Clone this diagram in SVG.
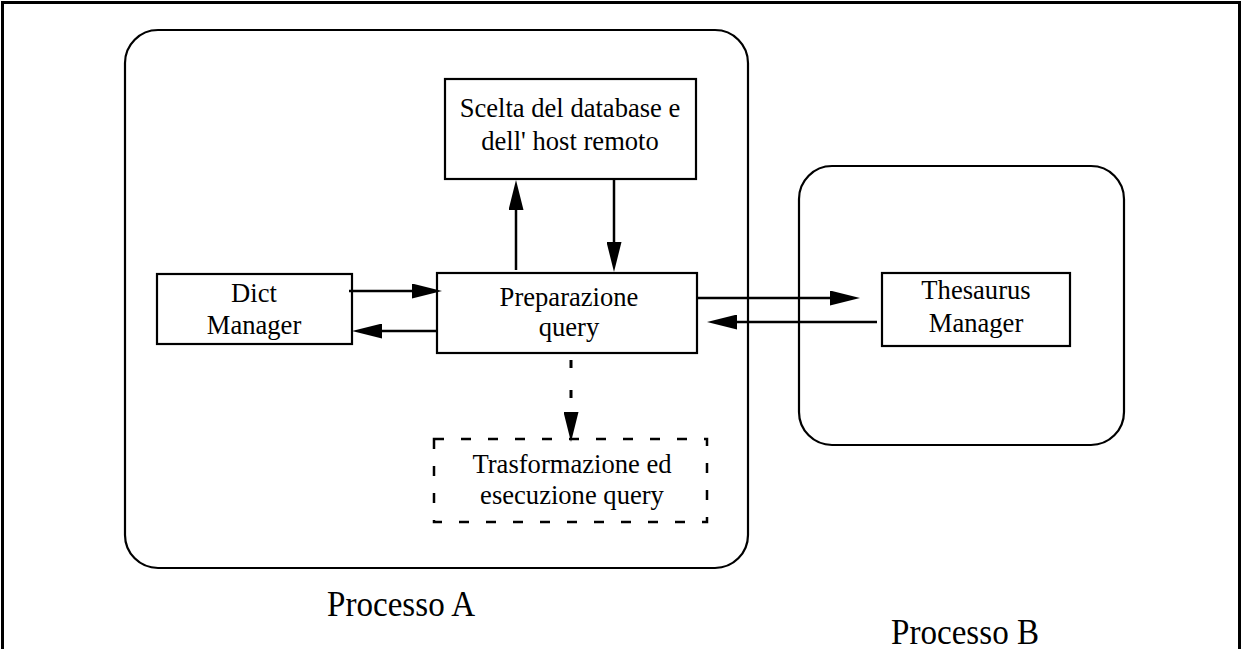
<svg xmlns="http://www.w3.org/2000/svg" width="1242" height="649" viewBox="0 0 1242 649">
<style>
.frame{fill:none;stroke:#000;stroke-width:3}
.proc{fill:none;stroke:#000;stroke-width:2.2}
.box{fill:#fff;stroke:#000;stroke-width:2.2}
.dbox{fill:none;stroke:#000;stroke-width:2.5;stroke-dasharray:10 17}
.lbl{font-family:"Liberation Serif","Times New Roman",serif;font-size:28px;text-anchor:middle;fill:#000}
.big{font-family:"Liberation Serif","Times New Roman",serif;font-size:36px;text-anchor:middle;fill:#000}
.conn{fill:none;stroke:#000;stroke-width:2.5;marker-end:url(#ah)}
.dash{stroke-dasharray:8 22;stroke-width:3}
</style>
<defs>
<marker id="ah" markerUnits="userSpaceOnUse" markerWidth="30" markerHeight="15" refX="20" refY="7.5" orient="auto">
<path d="M0,0 L30,7.5 L0,15 z" fill="#000"/>
</marker>
</defs>
<rect width="1242" height="649" fill="#fff"/>
<path class="frame" d="M2.5,660 L2.5,2.5 L1239.5,2.5 L1239.5,660"/>
<g id="processoA">
<rect class="proc" x="125" y="30" width="623" height="538" rx="33" ry="33"/>
<text class="big" transform="translate(401,616) scale(0.92,1)">Processo A</text>
</g>
<g id="processoB">
<rect class="proc" x="799" y="166" width="325" height="279" rx="33" ry="33"/>
<text class="big" transform="translate(965,644) scale(0.92,1)">Processo B</text>
</g>
<g id="scelta">
<rect class="box" x="445" y="79" width="251" height="100"/>
<text class="lbl" transform="translate(570,117) scale(0.95,1)">Scelta del database e</text>
<text class="lbl" transform="translate(570,150) scale(0.95,1)">dell' host remoto</text>
</g>
<g id="dict">
<rect class="box" x="157" y="274" width="195" height="70"/>
<text class="lbl" transform="translate(254,302) scale(0.95,1)">Dict</text>
<text class="lbl" transform="translate(254,334) scale(0.95,1)">Manager</text>
</g>
<g id="preparazione">
<rect class="box" x="437" y="273" width="260" height="80"/>
<text class="lbl" transform="translate(569,306) scale(0.95,1)">Preparazione</text>
<text class="lbl" transform="translate(569,336) scale(0.95,1)">query</text>
</g>
<g id="thesaurus">
<rect class="box" x="882" y="273" width="188" height="73"/>
<text class="lbl" transform="translate(976,299) scale(0.95,1)">Thesaurus</text>
<text class="lbl" transform="translate(976,332) scale(0.95,1)">Manager</text>
</g>
<g id="trasformazione">
<rect class="dbox" x="434" y="439" width="273" height="83"/>
<text class="lbl" transform="translate(572,473) scale(0.95,1)">Trasformazione ed</text>
<text class="lbl" transform="translate(572,504) scale(0.95,1)">esecuzione query</text>
</g>
<g id="connectors">
<path class="conn" d="M516,270 L516,190"/>
<path class="conn" d="M614,179 L614,262"/>
<path class="conn" d="M349,291 L432,291"/>
<path class="conn" d="M436,331 L362,331"/>
<path class="conn" d="M697,298 L850,298"/>
<path class="conn" d="M877,322 L717,322"/>
<path class="conn dash" d="M571,360 L571,432"/>
</g>
</svg>
